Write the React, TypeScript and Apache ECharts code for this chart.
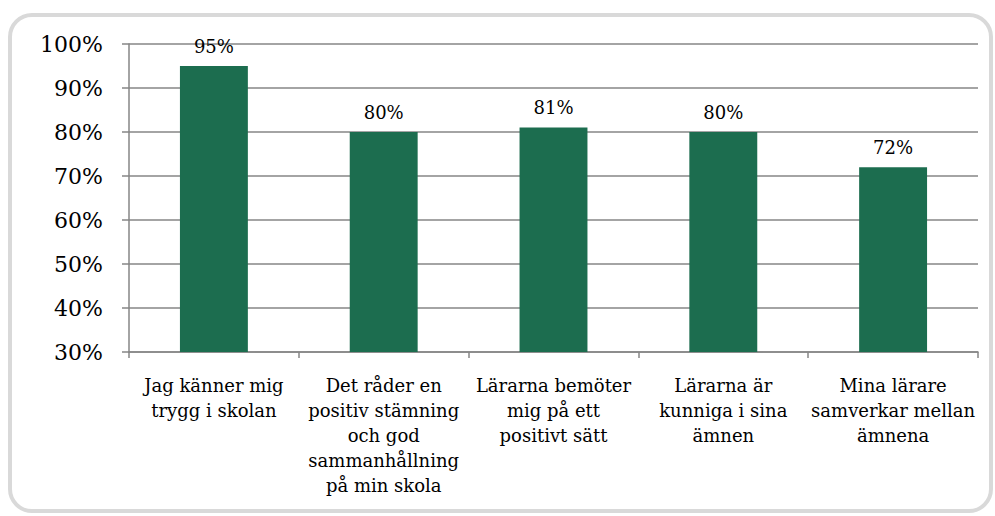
import React, { useEffect, useRef } from "react";
import * as echarts from "echarts";

const categories = [
  "Jag känner mig\ntrygg i skolan",
  "Det råder en\npositiv stämning\noch god\nsammanhållning\npå min skola",
  "Lärarna bemöter\nmig på ett\npositivt sätt",
  "Lärarna är\nkunniga i sina\nämnen",
  "Mina lärare\nsamverkar mellan\nämnena",
];
const values = [95, 80, 81, 80, 72];
const yMin = 30;
const yMax = 100;
const yStep = 10;

const FONT = "DejaVu Serif";

export default function App() {
  const ref = useRef<HTMLDivElement>(null);
  useEffect(() => {
    if (!ref.current) return;
    const chart = echarts.init(ref.current, undefined, { renderer: "svg" });
    chart.setOption({
      animation: false,
      graphic: [
        {
          type: "rect",
          shape: { x: 10, y: 15, width: 981, height: 496, r: 22 },
          style: { fill: "#fff", stroke: "#d9d9d9", lineWidth: 4 },
          z: -10,
        },
      ],
      grid: { left: 129, right: 17, top: 44, bottom: 164, containLabel: false },
      xAxis: {
        type: "category",
        data: categories,
        axisLine: { lineStyle: { color: "#868686", width: 1.5 } },
        axisTick: { show: true, length: 6, lineStyle: { color: "#868686", width: 1.5 } },
        axisLabel: {
          interval: 0,
          color: "#000",
          fontFamily: FONT,
          fontSize: 18,
          lineHeight: 25,
          margin: 21,
          align: "center",
        },
      },
      yAxis: {
        type: "value",
        min: yMin,
        max: yMax,
        interval: yStep,
        axisLine: { show: true, lineStyle: { color: "#868686", width: 1.5 } },
        axisTick: { show: true, length: 7, lineStyle: { color: "#868686", width: 1.5 } },
        splitLine: { lineStyle: { color: "#868686", width: 1.5 } },
        axisLabel: {
          color: "#000",
          fontFamily: FONT,
          fontSize: 22,
          margin: 26,
          formatter: (v: number) => v + "%",
        },
      },
      series: [
        {
          type: "bar",
          data: values,
          barCategoryGap: "60%",
          itemStyle: { color: "#1c6d4f" },
          label: {
            show: true,
            position: "top",
            distance: 11,
            color: "#000",
            fontFamily: FONT,
            fontSize: 18,
            formatter: (p: any) => p.value + "%",
          },
        },
      ],
    });
    return () => chart.dispose();
  }, []);
  return <div ref={ref} style={{ width: 995, height: 516, position: "absolute", left: 0, top: 0 }} />;
}
